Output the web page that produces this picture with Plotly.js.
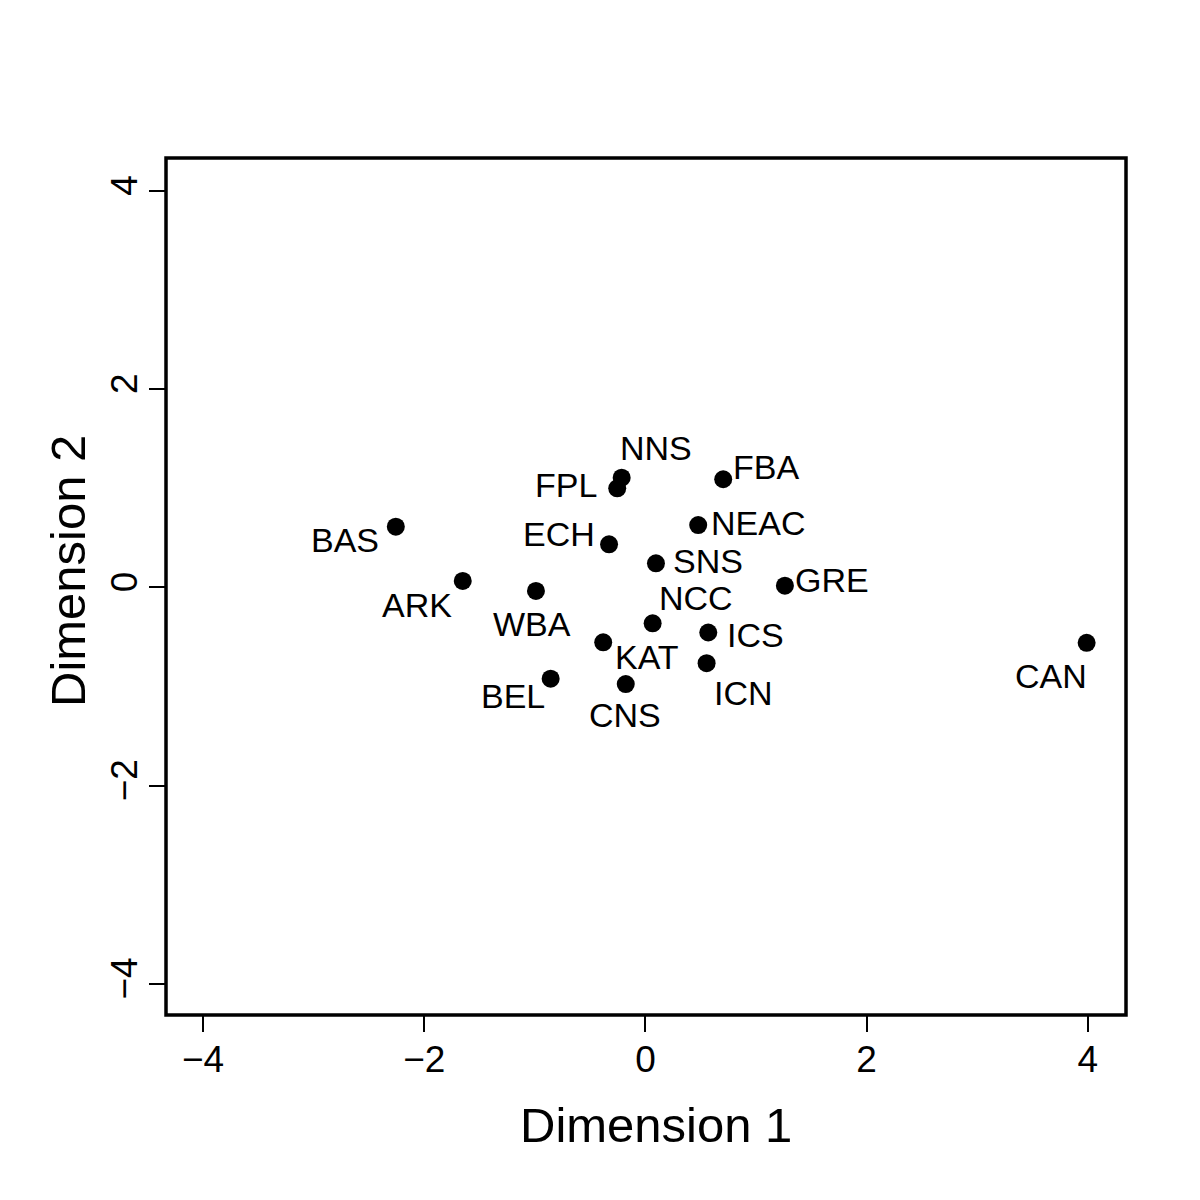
<!DOCTYPE html>
<html>
<head>
<meta charset="utf-8">
<script src="https://cdn.plot.ly/plotly-3.0.1.min.js"></script>
<style>html,body{margin:0;padding:0;background:#fff;}#chart{width:1200px;height:1200px;}</style>
</head>
<body>
<div id="chart"></div>
<script>
// Data
const sites = ["BAS","ARK","WBA","BEL","KAT","CNS","NCC","ECH","FPL","NNS","FBA","NEAC","SNS","GRE","ICS","ICN","CAN"];
const dim1 = [-2.257,-1.652,-0.990,-0.857,-0.382,-0.178,0.065,-0.329,-0.255,-0.215,0.703,0.477,0.095,1.261,0.568,0.553,3.989];
const dim2 = [0.613,0.066,-0.035,-0.920,-0.553,-0.974,-0.362,0.436,1.001,1.108,1.092,0.630,0.244,0.018,-0.454,-0.764,-0.558];
const tickVals = [-4,-2,0,2,4];
const xTitle = "Dimension 1";
const yTitle = "Dimension 2";

// Label placement offsets (pixels, from point to label centre)
const labelDx = [-50.5,-46,-3.5,-38,44,-1,43,-50,-51,34.5,43,60,52,47.5,47,37,-36];
const labelDy = [14.3,25,34,18,16,32,-24,-9,-2.5,-29,-11,-1,-1,-4.4,3.5,31,34.3];

const FONT = "Liberation Sans, Arial, sans-serif";
const fmt = v => v < 0 ? "\u2212" + Math.abs(v) : String(v);

const trace = {
  x: dim1, y: dim2, text: sites,
  type: "scatter", mode: "markers",
  marker: {color: "#000", size: 18, line: {width: 0}},
  hoverinfo: "text"
};

const annotations = sites.map((s, i) => ({
  x: dim1[i], y: dim2[i], xref: "x", yref: "y",
  text: s, showarrow: false,
  xanchor: "center", yanchor: "middle",
  xshift: labelDx[i], yshift: -labelDy[i] + 1,
  font: {family: FONT, size: 34, color: "#000"}
}));
annotations.push({
  xref: "paper", yref: "paper", x: 0.5109, y: -0.1284,
  xanchor: "center", yanchor: "middle", showarrow: false,
  text: xTitle, font: {family: FONT, size: 49, color: "#000"}
});
annotations.push({
  xref: "paper", yref: "paper", x: -0.1021, y: 0.5181,
  xanchor: "center", yanchor: "middle", showarrow: false, textangle: -90,
  text: yTitle, font: {family: FONT, size: 49, color: "#000"}
});

const layout = {
  width: 1200, height: 1200,
  paper_bgcolor: "#fff", plot_bgcolor: "#fff",
  margin: {l: 166, r: 74, t: 158, b: 185},
  showlegend: false,
  font: {family: FONT, color: "#000"},
  xaxis: {
    range: [-4.335, 4.345], tickvals: tickVals, ticktext: tickVals.map(fmt),
    ticks: "outside", ticklen: 16, tickwidth: 2, tickcolor: "#000",
    ticklabelstandoff: -4,
    showgrid: false, zeroline: false, showline: false,
    tickfont: {family: FONT, size: 37, color: "#000"},
    automargin: false
  },
  yaxis: {
    range: [-4.313, 4.333], tickvals: tickVals, ticktext: tickVals.map(fmt),
    ticks: "outside", ticklen: 16, tickwidth: 2, tickcolor: "#000", tickangle: -90,
    ticklabelstandoff: -3,
    showgrid: false, zeroline: false, showline: false,
    tickfont: {family: FONT, size: 37, color: "#000"},
    automargin: false
  },
  shapes: [{
    type: "rect", xref: "paper", yref: "paper", x0: 0, x1: 1, y0: 0, y1: 1,
    line: {color: "#000", width: 3.5}, fillcolor: "rgba(0,0,0,0)", layer: "above"
  }],
  annotations: annotations
};

Plotly.newPlot("chart", [trace], layout, {displayModeBar: false, staticPlot: true});
</script>
</body>
</html>
